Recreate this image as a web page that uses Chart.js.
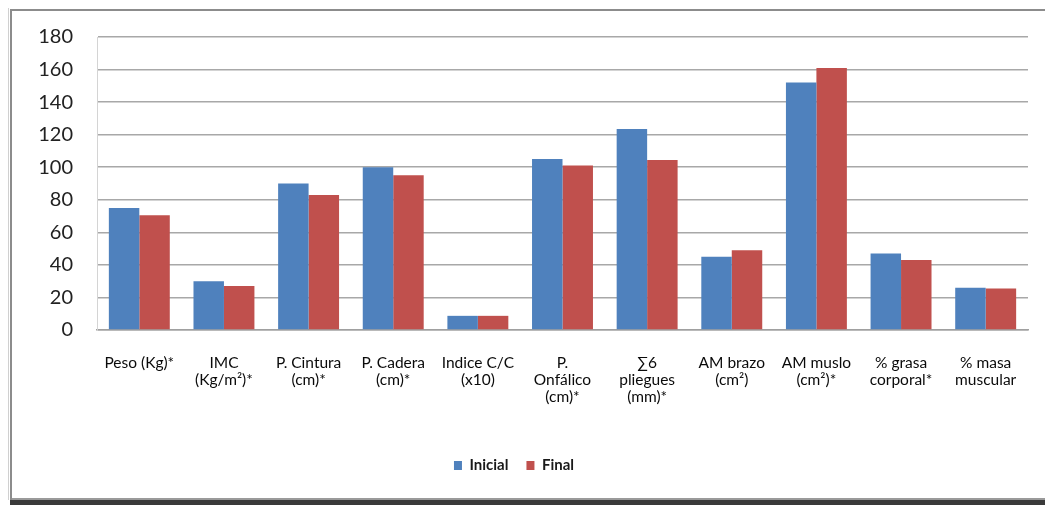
<!DOCTYPE html>
<html>
<head>
<meta charset="utf-8">
<script src="https://cdn.jsdelivr.net/npm/chart.js@4/dist/chart.umd.min.js"></script>
<style>
html,body{margin:0;padding:0;background:#fff;}
#wrap{width:1045px;height:505px;position:relative;}
</style>
</head>
<body>
<div id="wrap"><canvas id="c" width="1045" height="505"></canvas></div>
<script>
const categories = [
  "Peso (Kg)*",
  ["IMC", "(Kg/m²)*"],
  ["P. Cintura", "(cm)*"],
  ["P. Cadera", "(cm)*"],
  ["Indice C/C", "(x10)"],
  ["P.", "Onfálico", "(cm)*"],
  ["∑6", "pliegues", "(mm)*"],
  ["AM brazo", "(cm²)"],
  ["AM muslo", "(cm²)*"],
  ["% grasa", "corporal*"],
  ["% masa", "muscular"]
];
const inicial = [75, 30, 90, 100, 8.7, 105, 123.5, 45, 152, 47, 26];
const final   = [70.5, 27, 83, 95, 8.7, 101, 104.5, 49, 161, 43, 25.5];
const yTicks = [0, 20, 40, 60, 80, 100, 120, 140, 160, 180];

const frame = {
  id: 'frame',
  beforeDraw(chart) {
    const ctx = chart.ctx;
    ctx.save();
    ctx.fillStyle = '#ffffff';
    ctx.fillRect(0, 0, chart.width, chart.height);
    ctx.fillStyle = '#3a3a3a';
    ctx.fillRect(10, 500, chart.width - 10, 5);
    ctx.fillStyle = '#9a9a9a';
    ctx.fillRect(10, 498, chart.width - 10, 2);
    ctx.strokeStyle = '#8c8c8c';
    ctx.lineWidth = 2;
    ctx.beginPath();
    ctx.moveTo(11, 500);
    ctx.lineTo(11, 10);
    ctx.lineTo(chart.width, 10);
    ctx.stroke();
    ctx.strokeStyle = '#d0d0d0';
    ctx.lineWidth = 1;
    ctx.beginPath();
    ctx.moveTo(8.5, 500);
    ctx.lineTo(8.5, 8);
    ctx.stroke();
    ctx.restore();
  }
};

new Chart(document.getElementById('c'), {
  type: 'bar',
  data: {
    labels: categories,
    datasets: [
      { label: 'Inicial', data: inicial, backgroundColor: '#4F81BD', borderWidth: 0 },
      { label: 'Final', data: final, backgroundColor: '#C0504D', borderWidth: 0 }
    ]
  },
  options: {
    responsive: false,
    animation: false,
    devicePixelRatio: 1,
    layout: { padding: { top: 37, right: 17, left: 0, bottom: 22 } },
    datasets: { bar: { categoryPercentage: 0.72, barPercentage: 1.0 } },
    plugins: {
      legend: {
        position: 'bottom',
        labels: {
          boxWidth: 8, boxHeight: 9, padding: 18,
          color: '#1a1a1a',
          font: { family: 'Lato', size: 15, weight: 'bold' }
        }
      },
      tooltip: { enabled: false }
    },
    scales: {
      x: {
        afterFit(scale) { scale.height = 110; },
        grid: { display: false, drawTicks: false },
        border: { display: true, color: '#a0a0a0', width: 1.5 },
        ticks: {
          color: '#0a0a0a',
          maxRotation: 0, minRotation: 0, autoSkip: false,
          padding: 24,
          font: { family: 'Lato', size: 15.5, lineHeight: 1.1 }
        }
      },
      y: {
        min: 0, max: 180,
        afterFit(scale) { scale.width = 97; },
        afterBuildTicks(scale) { scale.ticks = yTicks.map(v => ({ value: v })); },
        grid: { color: '#a8a8a8', lineWidth: 1.5, drawTicks: false },
        border: { display: true, color: '#d4d4d4', width: 1 },
        ticks: {
          color: '#222',
          padding: 24,
          font: { family: 'Lato', size: 20 }
        }
      }
    }
  },
  plugins: [frame]
});
</script>
</body>
</html>
